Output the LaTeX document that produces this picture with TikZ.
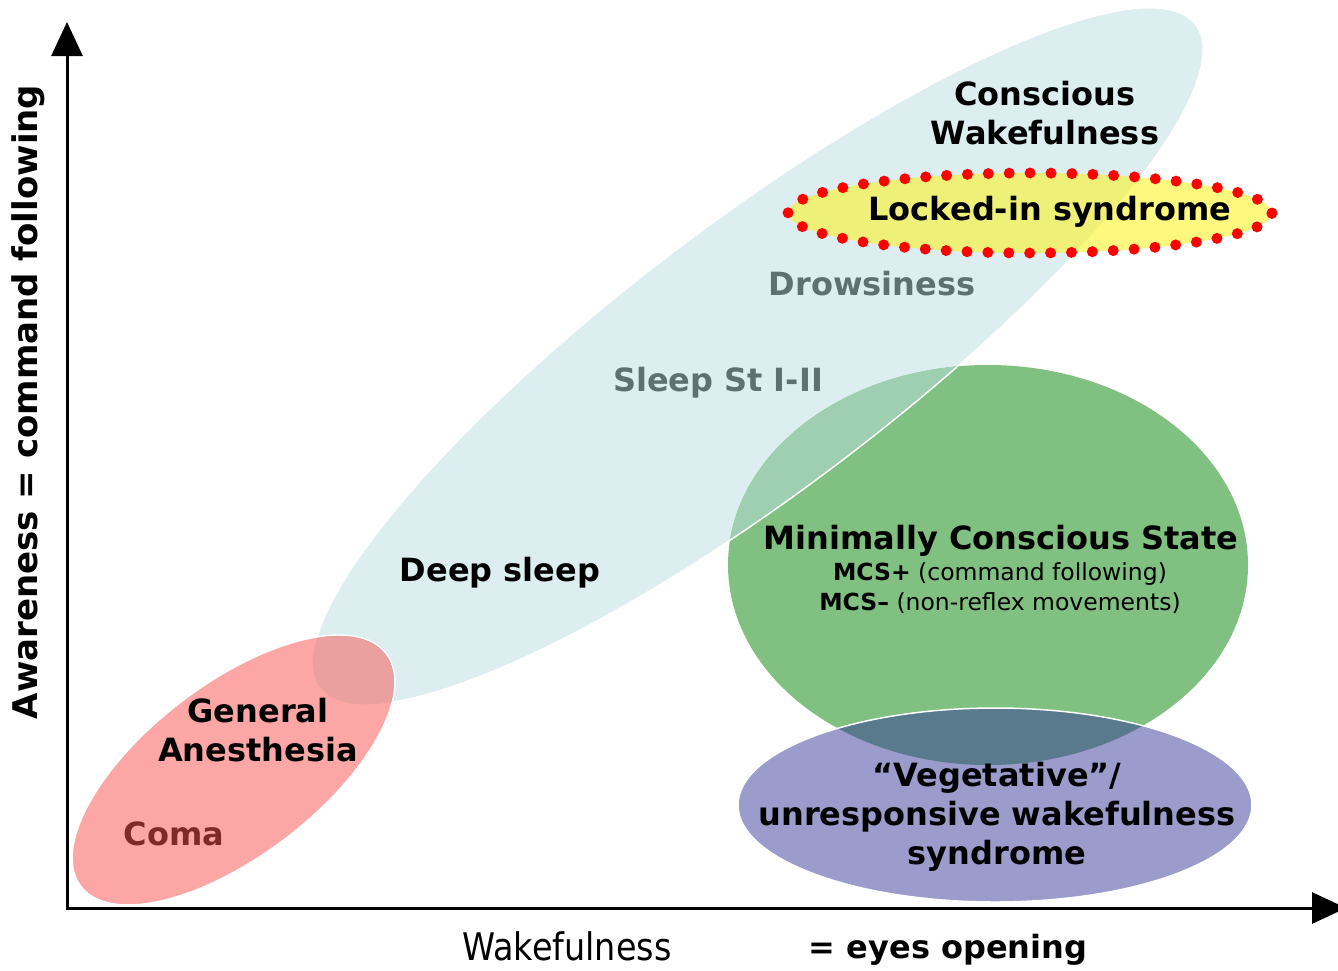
\documentclass[tikz,border=0pt]{standalone}
\usepackage{fontspec}
\usepackage{graphicx}
\setmainfont{DejaVu Sans}
\usetikzlibrary{arrows.meta}
\definecolor{bluefill}{HTML}{DDEEF0}
\definecolor{pinkfill}{HTML}{FDA6A6}
\definecolor{pinkblue}{HTML}{EBA0A0}
\definecolor{greenfill}{HTML}{80C080}
\definecolor{greenblue}{HTML}{9DCFB0}
\definecolor{purplefill}{HTML}{9B9BCC}
\definecolor{purplegreen}{HTML}{587A8C}
\definecolor{graytext}{HTML}{5F7070}
\definecolor{comatext}{HTML}{7F2A2A}
\begin{document}
\begin{tikzpicture}[x=1pt,y=-1pt,
  blueshape/.style={rotate around={37.13:(758,356)}},
  pinkshape/.style={rotate around={37.3:(233.5,770)}},
  lbl/.style={font=\fontsize{32}{39}\selectfont\bfseries, align=center, inner sep=0pt},
  graylbl/.style={lbl, text=graytext},
  smalllbl/.style={font=\fontsize{23.5}{29}\selectfont, align=center, inner sep=0pt},
  edge/.style={white, line width=1.5pt},
  axis/.style={line width=3pt, {Triangle[length=34pt,width=31pt]}-{Triangle[length=34pt,width=31pt]}}
]
\useasboundingbox (0,0) rectangle (1338,970);
% blue ellipse
\fill[bluefill, blueshape] (758,356) ellipse [x radius=549pt, y radius=134pt];
\draw[edge, blueshape] (758,356) ellipse [x radius=549pt, y radius=134pt];
% pink ellipse
\fill[pinkfill, pinkshape] (233.5,770) ellipse [x radius=192pt, y radius=86pt];
\draw[edge, pinkshape] (233.5,770) ellipse [x radius=192pt, y radius=86pt];
\begin{scope}
  \clip[pinkshape] (233.5,770) ellipse [x radius=191pt, y radius=85pt];
  \fill[pinkblue, blueshape] (758,356) ellipse [x radius=549pt, y radius=134pt];
\end{scope}
% green ellipse
\fill[greenfill] (988,565) ellipse [x radius=260pt, y radius=200pt];
\begin{scope}
  \clip (988,565) ellipse [x radius=260pt, y radius=200pt];
  \fill[greenblue, blueshape] (758,356) ellipse [x radius=549pt, y radius=134pt];
  \draw[edge, blueshape] (758,356) ellipse [x radius=549pt, y radius=134pt];
\end{scope}
% purple ellipse
\fill[purplefill] (995,805) ellipse [x radius=257pt, y radius=97pt];
\begin{scope}
  \clip (995,805) ellipse [x radius=257pt, y radius=97pt];
  \fill[purplegreen] (988,565) ellipse [x radius=260pt, y radius=200pt];
\end{scope}
\draw[edge] (995,805) ellipse [x radius=257pt, y radius=97pt];
% locked-in ellipse
\fill[yellow, opacity=0.5] (1030,213) ellipse [x radius=242pt, y radius=40pt];
\draw[red, line width=11pt, line cap=round, dash pattern=on 0pt off 20.9pt] (1030,213) ellipse [x radius=242pt, y radius=40pt];
% axes
\coordinate (orig) at (67,908);
\coordinate (ytip) at (67,22);
\coordinate (xtip) at (1346,908);
\draw[axis] (ytip) -- (orig) -- (xtip);
% labels
\node[lbl] (cw) at (1045,113) {Conscious\\Wakefulness};
\node[lbl] (lis) at (1050,212) {Locked-in syndrome};
\node[graylbl] (drow) at (872,284) {Drowsiness};
\node[graylbl] (sl) at (718,383) {Sleep St I-II};
\node[lbl] (deep) at (500,573) {Deep sleep};
\node[lbl] (ga) at (258,730) {General\\Anesthesia};
\node[lbl, text=comatext] (coma) at (174,834) {Coma};
\node[lbl] (mcs) at (1001,541) {Minimally Conscious State};
\node[smalllbl] (mcsp) at (1000,574) {\textbf{MCS+} (command following)};
\node[smalllbl] (mcsm) at (1000,603) {\textbf{MCS–} (non-reflex movements)};
\node[lbl] (veg) at (997,817) {“Vegetative”/\\unresponsive wakefulness\\syndrome};
\node[lbl, font=\fontsize{34}{40}\selectfont\bfseries, rotate=90] (ylab) at (28,402) {Awareness = command following};
\node[inner sep=0pt, font=\fontsize{38}{42}\selectfont] (xlab) at (567,946) {\scalebox{0.88}[1]{Wakefulness}};
\node[lbl] (eyes) at (948,950) {= eyes opening};
\end{tikzpicture}
\end{document}
